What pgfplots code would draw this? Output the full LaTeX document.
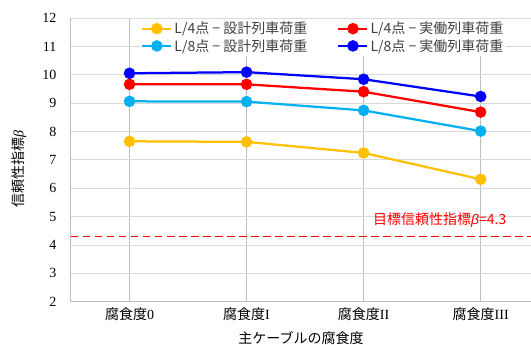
\documentclass[border=0pt]{standalone}
\usepackage{pgfplots}
\pgfplotsset{compat=1.18}
\usepackage{fontspec}
\setmainfont{Liberation Serif}
\newfontfamily\jp{Noto Sans CJK JP}
\newfontfamily\lsans{Liberation Sans}
\definecolor{cyel}{HTML}{FFC000}
\definecolor{cred}{HTML}{FF0000}
\definecolor{ccyan}{HTML}{00B0F0}
\definecolor{cblue}{HTML}{0000FF}
\definecolor{gridlt}{HTML}{D9D9D9}
\definecolor{griddk}{HTML}{BFBFBF}
\definecolor{txtgray}{HTML}{404040}
\begin{document}
\begin{tikzpicture}
\begin{axis}[
  scale only axis, width=460bp, height=283.4bp,
  xmin=-0.5, xmax=3.43, ymin=2, ymax=12,
  xtick={0,1,2,3},
  xticklabels={{\jp 腐食度}0,{\jp 腐食度}I,{\jp 腐食度}II,{\jp 腐食度}III},
  ytick={2,3,4,5,6,7,8,9,10,11,12},
  /pgf/number format/assume math mode=true,
  axis lines=left,
  axis line style={-, draw=griddk, line width=1bp},
  major tick length=0pt,
  xmajorgrids, ymajorgrids,
  every axis x grid/.style={draw=griddk, line width=1.2bp},
  every axis y grid/.style={draw=gridlt, line width=1bp},
  tick label style={font=\fontsize{14bp}{16bp}\selectfont, text=black},
  yticklabel style={xshift=-11bp},
  xticklabel style={yshift=-3bp},
  xlabel={\jp 主ケーブルの腐食度},
  ylabel={{\jp 信頼性指標}\textit{β}},
  every axis x label/.style={at={(axis description cs:0.5,-0.128)}, anchor=center, font=\fontsize{14bp}{16bp}\selectfont, text=black},
  every axis y label/.style={at={(axis description cs:-0.113,0.468)}, rotate=90, anchor=center, font=\fontsize{14bp}{16bp}\selectfont, text=black},
  legend style={at={(axis description cs:0.15,0.998)}, anchor=north west,
    draw=none, fill=white, font=\jp\fontsize{14bp}{16bp}\selectfont, text=txtgray,
    inner sep=1bp, row sep=0bp},
  legend columns=2,
  legend cell align=left,
  legend style={/tikz/every even column/.append style={column sep=28bp}},
  legend image code/.code={\draw[mark repeat=2,mark phase=2] plot coordinates {(0bp,0bp) (14.5bp,0bp) (29bp,0bp)};},
  every axis plot/.append style={line width=2.25bp, mark=*, mark size=4.6bp, mark options={solid}},
]
\coordinate (sw) at (rel axis cs:0,0);
\coordinate (ne) at (rel axis cs:1,1);
\addplot[forget plot, cred, line width=1.8bp, mark=none, dash pattern=on 7.5bp off 4.5bp] coordinates {(-0.5,4.3) (3.43,4.3)};
\addplot[color=cyel, mark options={fill=cyel}] coordinates {(0,7.66) (1,7.64) (2,7.25) (3,6.32)};
\addlegendentry{L/4点 − 設計列車荷重}
\addplot[color=cred, mark options={fill=cred}] coordinates {(0,9.67) (1,9.67) (2,9.41) (3,8.69)};
\addlegendentry{L/4点 − 実働列車荷重}
\addplot[color=ccyan, mark options={fill=ccyan}] coordinates {(0,9.07) (1,9.06) (2,8.75) (3,8.02)};
\addlegendentry{L/8点 − 設計列車荷重}
\addplot[color=cblue, mark options={fill=cblue}] coordinates {(0,10.06) (1,10.10) (2,9.85) (3,9.24)};
\addlegendentry{L/8点 − 実働列車荷重}
\node[text=cred, font=\fontsize{14bp}{16bp}\selectfont, inner sep=0pt] at (axis cs:2.65,4.88) {{\jp 目標信頼性指標}{\lsans\itshape β}{\jp =4.3}};
\end{axis}
\pgfresetboundingbox
\path[use as bounding box] ([xshift=-71bp,yshift=-43.3bp]sw) rectangle ([yshift=18.3bp]ne);
\end{tikzpicture}
\end{document}
